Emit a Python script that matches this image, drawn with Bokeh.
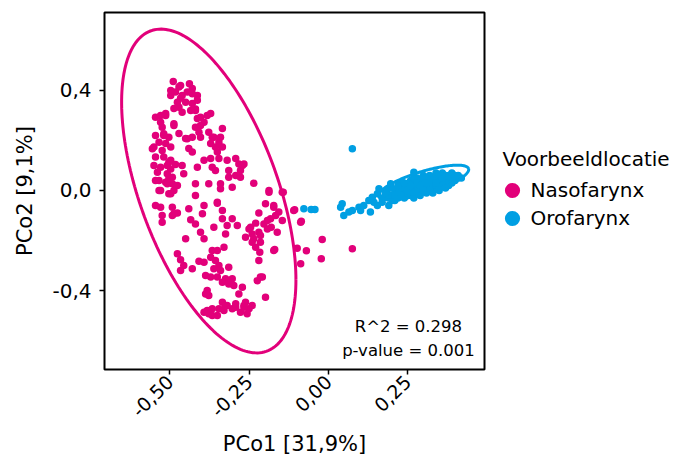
import numpy as np
from bokeh.plotting import figure
from bokeh.layouts import row
from bokeh.models import FixedTicker, Range1d, Label, Legend, LegendItem
from bokeh.embed import file_html
from bokeh.resources import INLINE

# ---------------- data ----------------
naso_x = [-0.489,-0.466,-0.438,-0.429,-0.445,-0.482,-0.497,-0.413,-0.413,-0.466,-0.450,-0.429,
          -0.487,-0.461,-0.434,-0.419,-0.403,-0.382,-0.371,-0.513,-0.545,-0.529,-0.413,-0.403,
          -0.419,-0.487,-0.524,-0.545,-0.519,-0.503,-0.471,-0.450,-0.429,-0.403,-0.377,-0.361,
          -0.334,-0.340,-0.550,-0.534,-0.513,-0.497,-0.440,-0.429,-0.371,-0.356,-0.350,-0.345,
          -0.545,-0.519,-0.497,-0.392,-0.371,-0.345,-0.319,-0.292,-0.282,-0.266,-0.550,-0.529,
          -0.508,-0.482,-0.461,-0.413,-0.366,-0.539,-0.508,-0.492,-0.456,-0.356,-0.314,-0.292,
          -0.277,-0.534,-0.513,-0.492,-0.476,-0.419,-0.377,-0.235,-0.187,-0.545,-0.508,-0.487,
          -0.529,-0.497,-0.419,-0.340,-0.303,-0.187,-0.145,-0.545,-0.529,-0.492,-0.524,-0.492,
          -0.476,-0.524,-0.440,-0.392,-0.350,-0.334,-0.397,-0.434,-0.419,-0.303,-0.319,-0.287,
          -0.198,-0.172,-0.156,-0.166,-0.182,-0.219,-0.229,-0.203,-0.192,-0.250,-0.240,-0.261,
          -0.214,-0.235,-0.214,-0.229,-0.240,-0.361,-0.324,-0.403,-0.392,-0.450,-0.161,-0.172,
          -0.109,-0.087,-0.476,-0.466,-0.456,-0.466,-0.429,-0.408,-0.392,-0.366,-0.350,-0.329,
          -0.371,-0.356,-0.345,-0.340,-0.314,-0.361,-0.387,-0.371,-0.350,-0.324,-0.303,-0.334,
          -0.314,-0.298,-0.219,-0.216,-0.224,-0.208,-0.271,-0.282,-0.382,-0.377,-0.387,-0.198,
          -0.392,-0.382,-0.366,-0.350,-0.345,-0.334,-0.319,-0.303,-0.292,-0.277,-0.266,-0.250,
          -0.240,-0.261,-0.256,-0.329,-0.377,-0.106,-0.085,-0.019,-0.098,-0.069,0.076,-0.022,
          -0.142,-0.169,-0.087,-0.214,
          -0.471,-0.497,-0.461,-0.429,-0.476,-0.471,-0.419,-0.513,-0.529,-0.487,-0.392,-0.408,
          -0.519,-0.445,-0.366,-0.555,-0.524,-0.334,-0.503,-0.497,-0.503,-0.534,-0.503,-0.340,
          -0.350,-0.487,-0.334,-0.271,-0.277,-0.314,-0.172,-0.145,-0.245,-0.180,-0.192,-0.219,
          -0.324,-0.292,-0.366,-0.266]
naso_y = [0.434,0.418,0.425,0.406,0.392,0.392,0.378,0.378,0.359,0.367,0.352,0.347,
          0.327,0.312,0.319,0.319,0.292,0.299,0.307,0.307,0.292,0.299,0.287,0.259,
          0.252,0.259,0.252,0.219,0.219,0.212,0.227,0.207,0.212,0.212,0.232,0.212,
          0.247,0.212,0.173,0.192,0.187,0.173,0.167,0.153,0.187,0.173,0.153,0.192,
          0.133,0.133,0.120,0.120,0.127,0.127,0.120,0.127,0.106,0.106,0.100,0.093,
          0.100,0.104,0.100,0.093,0.093,0.073,0.067,0.053,0.067,0.080,0.080,0.060,
          0.080,0.040,0.033,0.027,0.020,0.027,0.027,0.029,0.000,0.040,0.027,0.000,
          0.000,-0.013,-0.020,0.027,0.013,-0.007,-0.007,-0.060,-0.067,-0.067,-0.100,-0.100,
          -0.090,-0.126,-0.073,-0.060,-0.051,-0.080,-0.093,-0.117,-0.133,-0.113,-0.139,-0.139,
          -0.053,-0.067,-0.086,-0.100,-0.113,-0.090,-0.130,-0.133,-0.153,-0.153,-0.173,-0.186,
          -0.179,-0.192,-0.206,-0.226,-0.206,-0.146,-0.173,-0.166,-0.192,-0.192,-0.166,-0.239,
          -0.080,-0.126,-0.252,-0.276,-0.299,-0.319,-0.312,-0.282,-0.286,-0.239,-0.239,-0.226,
          -0.266,-0.279,-0.299,-0.319,-0.306,-0.312,-0.339,-0.345,-0.345,-0.352,-0.352,-0.365,
          -0.372,-0.378,-0.279,-0.246,-0.359,-0.345,-0.385,-0.412,-0.398,-0.418,-0.412,-0.425,
          -0.485,-0.478,-0.471,-0.498,-0.471,-0.445,-0.458,-0.471,-0.451,-0.485,-0.458,-0.471,
          -0.458,-0.445,-0.491,-0.478,-0.491,-0.077,-0.122,-0.195,-0.230,-0.240,-0.232,-0.272,
          -0.007,-0.235,-0.292,-0.345,
          0.412,0.398,0.378,0.385,0.352,0.332,0.325,0.299,0.272,0.266,0.272,0.232,
          0.226,0.206,0.212,0.166,0.159,0.173,0.113,0.086,0.047,0.000,-0.013,0.007,
          -0.047,-0.093,-0.113,0.100,0.053,0.053,-0.060,-0.120,-0.146,-0.146,-0.120,-0.166,
          -0.458,-0.465,-0.498,-0.465]

oro_x = [0.076,-0.077,-0.054,-0.042,0.044,0.039,0.049,0.065,0.076,0.097,0.102,0.112,
         0.133,0.128,0.139,0.155,0.160,0.144,0.155,0.170,0.181,0.186,0.197,0.191,
         0.202,0.212,0.223,0.233,0.244,0.254,0.270,0.265,
         0.20,0.21,0.22,0.23,0.24,0.24,0.25,0.25,0.26,0.26,0.27,0.27,0.28,0.28,0.29,0.29,
         0.30,0.30,0.31,0.31,0.32,0.32,0.33,0.33,0.34,0.34,0.35,0.35,0.36,0.36,0.37,0.37,
         0.38,0.38,0.39,0.39,0.40,0.40,0.41,0.42,0.26,0.28,0.30,0.32,0.34,0.36,0.22,0.23,
         0.27,0.29,0.31,0.33,0.35,0.37,0.21,0.19,0.18,0.17,
         0.20,0.21,0.22,0.23,0.24,0.25,0.26,0.27,0.27,0.28,0.29,0.30,0.30,0.31,0.32,0.33,
         0.34,0.35,0.36,0.37,0.38,0.39,0.40,0.41]
oro_y = [0.166,-0.073,-0.076,-0.076,-0.053,-0.067,-0.100,-0.086,-0.080,-0.067,-0.080,-0.060,
         -0.086,-0.040,-0.027,-0.013,0.007,-0.047,-0.060,-0.047,-0.027,0.000,0.027,-0.060,
         -0.040,-0.013,0.007,0.033,-0.020,0.013,0.073,0.040,
         -0.02,0.00,-0.03,-0.01,0.01,-0.03,-0.01,0.02,0.00,-0.02,0.01,0.03,-0.01,0.02,0.00,0.04,
         0.01,0.03,0.00,0.05,0.02,0.04,0.01,0.03,0.02,0.05,0.03,0.01,0.04,0.02,0.03,0.05,
         0.04,0.02,0.05,0.03,0.04,0.06,0.05,0.05,0.04,0.05,0.06,0.06,0.07,0.07,0.01,0.03,
         -0.03,-0.02,-0.01,-0.01,0.00,0.01,-0.04,-0.03,-0.01,-0.03,
         0.01,-0.02,0.02,-0.02,0.03,0.00,0.02,-0.01,0.05,0.03,0.02,0.00,0.05,0.03,0.00,0.05,
         0.03,0.06,0.05,0.06,0.06,0.07,0.05,0.06]

# 95% ellipse parameters: centre and two semi-axis vectors (data units)
naso_ell = dict(cx=-0.377, cy=-0.002, ux=0.275, uy=-0.354, vx=0.0, vy=0.539)
oro_ell = dict(cx=0.301, cy=0.032, ux=0.1418, uy=0.0547, vx=0.0102, vy=-0.0419)

x_ticks = [-0.5, -0.25, 0.0, 0.25]
x_tick_labels = ["-0,50", "-0,25", "0,00", "0,25"]
y_ticks = [-0.4, 0.0, 0.4]
y_tick_labels = ["-0,4", "0,0", "0,4"]

groups = ["Nasofarynx", "Orofarynx"]
legend_title = "Voorbeeldlocatie"
colors = ["#E2007A", "#009FE3"]
stats = ["R^2 = 0.298", "p-value = 0.001"]

FONT = "DejaVu Sans"
H = 461

p = figure(width=490, height=H, output_backend="svg", toolbar_location=None,
           x_range=Range1d(-0.706, 0.493), y_range=Range1d(-0.713, 0.709),
           min_border_left=104, min_border_top=12, min_border_right=6, min_border_bottom=92)
p.grid.visible = False
p.outline_line_color = "black"
p.outline_line_width = 2
p.background_fill_color = "white"

def ell_pts(e):
    t = np.linspace(0, 2 * np.pi, 200)
    xs = e["cx"] + np.cos(t) * e["ux"] + np.sin(t) * e["vx"]
    ys = e["cy"] + np.cos(t) * e["uy"] + np.sin(t) * e["vy"]
    return xs, ys

p.scatter(naso_x, naso_y, size=7.5, color=colors[0], line_color=None)
p.scatter(oro_x, oro_y, size=7.5, color=colors[1], line_color=None)
ex, ey = ell_pts(naso_ell)
p.line(ex, ey, line_color=colors[0], line_width=3)
ex, ey = ell_pts(oro_ell)
p.line(ex, ey, line_color=colors[1], line_width=3)

for ax in (p.xaxis[0], p.yaxis[0]):
    ax.axis_line_color = "black"
    ax.axis_line_width = 1
    ax.major_tick_in = 0
    ax.major_tick_out = 5
    ax.major_tick_line_width = 1.5
    ax.minor_tick_line_color = None
    ax.major_label_text_font = FONT
    ax.major_label_text_color = "black"
    ax.axis_label_text_font = FONT
    ax.axis_label_text_font_size = "21px"
    ax.axis_label_text_font_style = "normal"
    ax.axis_label_text_color = "black"

p.xaxis.ticker = FixedTicker(ticks=x_ticks)
p.xaxis.major_label_overrides = dict(zip(x_ticks, x_tick_labels))
p.xaxis.major_label_orientation = np.pi / 4
p.xaxis.major_label_text_font_size = "19px"
p.xaxis.axis_label = "PCo1 [31,9%]"
p.xaxis.major_label_standoff = 4
p.xaxis.axis_label_standoff = 6

p.yaxis.ticker = FixedTicker(ticks=y_ticks)
p.yaxis.major_label_overrides = dict(zip(y_ticks, y_tick_labels))
p.yaxis.major_label_text_font_size = "20px"
p.yaxis.axis_label = "PCo2 [9,1%]"
p.yaxis.major_label_standoff = 8
p.yaxis.axis_label_standoff = 12

p.add_layout(Label(x=0.253, y=-0.542, text=stats[0], text_align="center",
                   text_baseline="alphabetic", text_font=FONT, text_font_size="16.5px",
                   text_color="black"))
p.add_layout(Label(x=0.253, y=-0.637, text=stats[1], text_align="center",
                   text_baseline="alphabetic", text_font=FONT, text_font_size="16.5px",
                   text_color="black"))

# ---- legend panel (separate figure to the right; its frame is aligned with the plot frame) ----
lw = 199
x0 = 50  # offset of this panel's x range, so the key samples lie well outside it
lg = figure(width=lw, height=H, output_backend="svg", toolbar_location=None,
            x_range=Range1d(x0, x0 + lw), y_range=Range1d(0, 357),
            x_axis_type=None, y_axis_type=None,
            min_border_left=0, min_border_right=0, min_border_top=12, min_border_bottom=92)
lg.grid.visible = False
lg.outline_line_color = None
# one sample of each group, lying outside this panel's ranges (invisible), as legend keys
lr1 = lg.scatter(naso_x[:1], naso_y[:1], color=colors[0], line_color=None)
lr2 = lg.scatter(oro_x[1:2], oro_y[1:2], color=colors[1], line_color=None)

common = dict(glyph_width=38, glyph_height=38, padding=0, margin=0, label_standoff=0,
              border_line_color=None, background_fill_alpha=0, label_text_font=FONT,
              label_text_font_size="20px", label_text_color="black")
lg.add_layout(Legend(items=[LegendItem(label=groups[0], renderers=[lr1])],
                     location=(2.5, 160.5), **common))
lg.add_layout(Legend(items=[LegendItem(label=groups[1], renderers=[lr2])],
                     location=(2.5, 132.5), **common))
lg.add_layout(Label(x=x0 + 12, y=211, text=legend_title, text_align="left",
                    text_baseline="alphabetic", text_font=FONT, text_font_size="20px",
                    text_color="black"))

open("out.html", "w").write(file_html(row(p, lg), INLINE))
